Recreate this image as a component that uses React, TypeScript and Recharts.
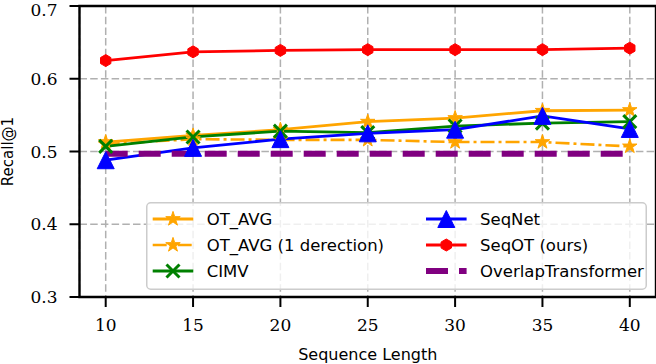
import React from 'react';
import { LineChart, Line, XAxis, YAxis, CartesianGrid, ReferenceArea, Legend, Label } from 'recharts';

// ---- data ----
const lengths = [10, 15, 20, 25, 30, 35, 40];
const otAvg = [0.513, 0.522, 0.530, 0.541, 0.546, 0.556, 0.557];
const otAvg1Dir = [0.510, 0.517, 0.516, 0.516, 0.513, 0.513, 0.507];
const cimv = [0.507, 0.520, 0.528, 0.526, 0.535, 0.539, 0.541];
const seqNet = [0.488, 0.505, 0.517, 0.525, 0.530, 0.549, 0.531];
const seqOT = [0.625, 0.637, 0.639, 0.640, 0.640, 0.640, 0.642];
const overlapTransformer = [0.497, 0.497, 0.497, 0.497, 0.497, 0.497, 0.497];
const xTicks = [10, 15, 20, 25, 30, 35, 40];
const yTicks = [0.3, 0.4, 0.5, 0.6, 0.7];
const seriesNames = ['OT_AVG', 'OT_AVG (1 derection)', 'CIMV', 'SeqNet', 'SeqOT (ours)', 'OverlapTransformer'];

const data = lengths.map((x, i) => ({
  x,
  otAvg: otAvg[i],
  otAvg1Dir: otAvg1Dir[i],
  cimv: cimv[i],
  seqNet: seqNet[i],
  seqOT: seqOT[i],
  overlap: overlapTransformer[i],
}));

// ---- styles ----
const series = [
  { key: 'otAvg', color: '#FFA500', dash: undefined as string | undefined, width: 2.8, marker: 'star' },
  { key: 'otAvg1Dir', color: '#FFA500', dash: '14 4 3 4', width: 2.6, marker: 'star' },
  { key: 'cimv', color: '#008000', dash: undefined, width: 2.8, marker: 'x' },
  { key: 'seqNet', color: '#0000FF', dash: undefined, width: 2.8, marker: 'tri' },
  { key: 'seqOT', color: '#FF0000', dash: undefined, width: 2.8, marker: 'hex' },
  { key: 'overlap', color: '#800080', dash: '22 11', width: 6, marker: 'none' },
];

function markerShape(kind: string, cx: number, cy: number, color: string, key?: any) {
  if (kind === 'star') {
    const R = 7.6, r = R * 0.382;
    const pts: string[] = [];
    for (let i = 0; i < 10; i++) {
      const a = (-90 + i * 36) * Math.PI / 180;
      const rr = i % 2 === 0 ? R : r;
      pts.push(`${cx + rr * Math.cos(a)},${cy + rr * Math.sin(a)}`);
    }
    return <polygon key={key} points={pts.join(' ')} fill={color} stroke={color} strokeWidth={1} />;
  }
  if (kind === 'tri') {
    const h = 8.5;
    return <polygon key={key} points={`${cx},${cy - h} ${cx - h},${cy + h} ${cx + h},${cy + h}`} fill={color} stroke={color} strokeWidth={1} />;
  }
  if (kind === 'hex') {
    const R = 6;
    const pts: string[] = [];
    for (let i = 0; i < 6; i++) {
      const a = (-90 + i * 60) * Math.PI / 180;
      pts.push(`${cx + R * Math.cos(a)},${cy + R * Math.sin(a)}`);
    }
    return <polygon key={key} points={pts.join(' ')} fill={color} stroke={color} strokeWidth={1} />;
  }
  if (kind === 'x') {
    const h = 6.5;
    return (
      <g key={key}>
        <line x1={cx - h} y1={cy - h} x2={cx + h} y2={cy + h} stroke={color} strokeWidth={3} />
        <line x1={cx - h} y1={cy + h} x2={cx + h} y2={cy - h} stroke={color} strokeWidth={3} />
      </g>
    );
  }
  return <g key={key} />;
}

const makeDot = (kind: string, color: string) => (props: any) =>
  markerShape(kind, props.cx, props.cy, color, `${kind}-${props.index}`);

const renderLegend = () => (
  <svg width={501} height={88} style={{ display: 'block' }}>
    <rect x={0.75} y={0.75} width={499.5} height={86.5} rx={4} ry={4}
      fill="rgba(255,255,255,0.8)" stroke="#cccccc" strokeWidth={1.5} />
    {series.map((s, i) => {
      const col = Math.floor(i / 3);
      const row = i % 3;
      const x0 = col === 0 ? 6.7 : 280;
      const x1 = x0 + 40.6;
      const y = 17 + row * 26;
      return (
        <g key={s.key}>
          <line x1={x0} y1={y} x2={x1} y2={y} stroke={s.color} strokeWidth={s.width}
            strokeDasharray={s.dash} />
          {markerShape(s.marker, (x0 + x1) / 2, y, s.color)}
          <text x={x1 + 13.4} y={y} dominantBaseline="central"
            style={{ fontFamily: 'DejaVu Sans', fontSize: 16.5, fill: '#000' }}>
            {seriesNames[i]}
          </text>
        </g>
      );
    })}
  </svg>
);

const tickStyle = { fontFamily: 'DejaVu Serif', fontSize: 17, fill: '#000' };

export default function App() {
  return (
    <div style={{ position: 'absolute', left: 0, top: 0 }}>
      <LineChart width={656} height={364} data={data}
        margin={{ top: 6, right: 0, bottom: 0, left: 0 }}>
        <CartesianGrid stroke="#b0b0b0" strokeWidth={1.5} strokeDasharray="7.5 3.2" />
        <XAxis dataKey="x" type="number" domain={[8.5, 41.5]} ticks={xTicks}
          height={67} axisLine={false} tickSize={10} tickMargin={12}
          tickLine={{ stroke: '#000', strokeWidth: 2 }} tick={tickStyle}
          allowDataOverflow>
          <Label value="Sequence Length" position="insideBottom" offset={4}
            style={{ fontFamily: 'DejaVu Sans', fontSize: 16, fill: '#000' }} />
        </XAxis>
        <YAxis type="number" domain={[0.3, 0.7]} ticks={yTicks} width={79.5}
          axisLine={false} tickSize={10} tickMargin={12}
          tickLine={{ stroke: '#000', strokeWidth: 2 }} tick={tickStyle}
          tickFormatter={(v: number) => v.toFixed(1)} allowDataOverflow>
          <Label content={(p: any) => {
            const vb = p.viewBox;
            const cx = vb.x + 7.5;
            const cy = vb.y + vb.height / 2;
            return (
              <text x={cx} y={cy} transform={`rotate(-90 ${cx} ${cy})`} textAnchor="middle"
                dominantBaseline="central"
                style={{ fontFamily: 'DejaVu Sans', fontSize: 15, fill: '#000' }}>Recall@1</text>
            );
          }} />
        </YAxis>
        {series.map((s) => (
          <Line key={s.key} dataKey={s.key} type="linear" stroke={s.color}
            strokeWidth={s.width} strokeDasharray={s.dash}
            dot={s.marker === 'none' ? false : makeDot(s.marker, s.color)}
            activeDot={false} isAnimationActive={false} />
        ))}
        <ReferenceArea x1={8.5} x2={41.5} y1={0.3} y2={0.7} fill="none" fillOpacity={0}
          stroke="#000" strokeWidth={2.4} ifOverflow="visible" />
        <Legend layout="horizontal" verticalAlign="middle" align="center" content={renderLegend}
          wrapperStyle={{ position: 'absolute', left: 146, top: 202, width: 501, height: 88 }} />
      </LineChart>
    </div>
  );
}
